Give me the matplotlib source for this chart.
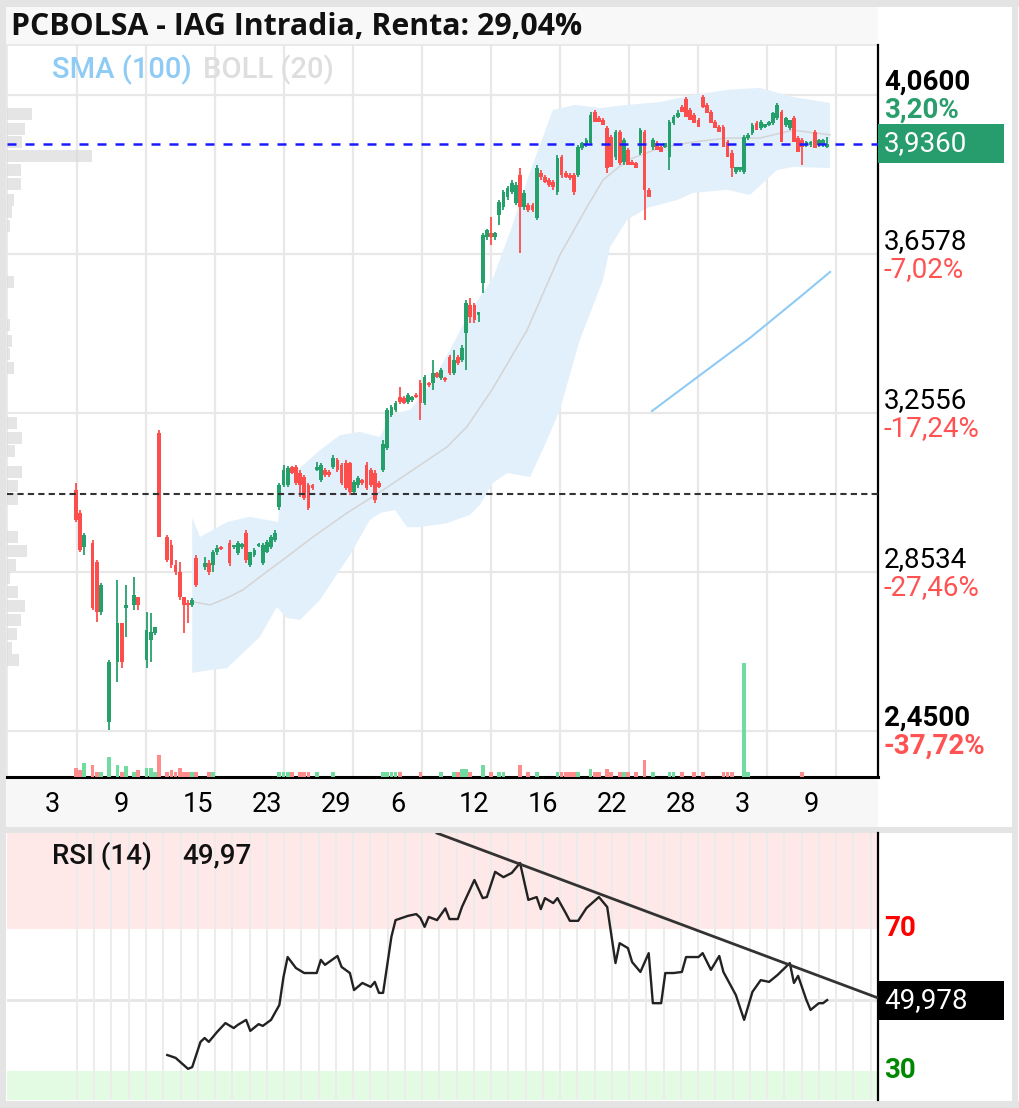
import numpy as np
import matplotlib
matplotlib.use("Agg")
import matplotlib.pyplot as plt
import matplotlib.transforms as mtrans
from matplotlib.patches import Rectangle

plt.rcParams['font.family'] = ['Roboto', 'DejaVu Sans']

nan = float('nan')

# ---------------- DATA ----------------
# OHLC per time slot (nan = slot without trades)
open_ = [
 3.060, 3.002, 2.916, nan, 2.926, 2.878, 2.751, nan, 2.473, nan,
 2.625, 2.723, 2.761, nan, 2.769, 2.789, nan, 2.630, 2.680, 2.698,
 3.204, nan, 2.941, 2.921, 2.870, 2.852, 2.789, 2.774, 2.769, 2.888,
 nan, 2.865, 2.875, 2.870, 2.903, 2.916, nan, 2.926,
 2.916, 2.901, 2.916, 2.951, 2.870, 2.895, 2.918, 2.875, 2.903, 2.916,
 2.933, 3.017, 3.073, 3.073, 3.118, 3.118, 3.103, 3.093, 3.073, 3.073,
 3.111, 3.085, 3.111, 3.106, 3.118, 3.136, 3.123, 3.128, 3.128, 3.055,
 3.073, 3.085, 3.123, 3.111, 3.103, 3.078, 3.111, 3.166, 3.250, 3.263,
 3.295, 3.293, 3.283, 3.288, 3.301, 3.331, 3.280, 3.331, 3.331, 3.356,
 3.344, 3.344, 3.397, 3.356, 3.397, 3.389, 3.457, 3.528, 3.528, 3.503,
 3.584, 3.701, 3.711, 3.701, 3.756, 3.776, 3.802, 3.814, 3.787, 3.857,
 3.776, 3.782, 3.782, 3.749, 3.863, 3.852, 3.845, 3.840, 3.814, 3.903,
 3.863, 3.857, 3.857, 3.857, 3.926, 3.933, 3.938, 4.017, 4.002, 3.997,
 3.976, 3.954, 3.903, 3.966, 3.890, 3.921, 3.890, 3.888, 3.913, 3.966,
 3.820, 3.928, 3.938, 3.928, 3.928, 3.903, 3.989, 4.004, 4.030, 4.050,
 4.022, 4.009, 3.997, 4.055, 4.035, 4.017, 3.992, 3.979, 3.979, 3.941,
 3.913, 3.865, 3.870, 3.865, 3.951, 3.964, 3.989, 3.976, 3.979, 3.984,
 3.989, 4.002, 4.017, 3.984, 3.976, 4.002, 3.951, 3.946, 3.933, 3.933,
 3.966, 3.933, 3.933, 3.928]
high = [
 3.078, 3.009, 2.951, nan, 2.933, 2.883, 2.825, nan, 2.630, nan,
 2.832, 2.723, 2.820, nan, 2.840, 2.789, nan, 2.751, 2.749, 2.713,
 3.212, nan, 2.946, 2.933, 2.883, 2.878, 2.789, 2.782, 2.787, 2.895,
 nan, 2.890, 2.883, 2.908, 2.921, 2.918, nan, 2.933,
 2.921, 2.931, 2.926, 2.959, 2.903, 2.913, 2.926, 2.926, 2.933, 2.946,
 2.959, 3.078, 3.123, 3.121, 3.121, 3.123, 3.111, 3.098, 3.078, 3.075,
 3.131, 3.128, 3.116, 3.111, 3.149, 3.141, 3.128, 3.136, 3.131, 3.085,
 3.095, 3.088, 3.131, 3.116, 3.111, 3.083, 3.187, 3.268, 3.275, 3.285,
 3.321, 3.298, 3.306, 3.298, 3.306, 3.338, 3.351, 3.333, 3.389, 3.359,
 3.369, 3.346, 3.402, 3.414, 3.402, 3.427, 3.541, 3.546, 3.533, 3.511,
 3.711, 3.721, 3.751, 3.713, 3.794, 3.820, 3.830, 3.845, 3.840, 3.875,
 3.820, 3.787, 3.787, 3.883, 3.870, 3.857, 3.850, 3.845, 3.908, 3.908,
 3.868, 3.863, 3.863, 3.933, 3.941, 3.951, 4.017, 4.022, 4.007, 4.002,
 3.982, 3.959, 3.971, 3.971, 3.951, 3.926, 3.895, 3.890, 3.976, 3.971,
 3.825, 3.951, 3.944, 3.933, 3.938, 3.997, 4.009, 4.022, 4.035, 4.055,
 4.027, 4.014, 4.002, 4.060, 4.040, 4.022, 3.997, 3.984, 3.984, 3.946,
 3.921, 3.870, 3.878, 3.959, 3.964, 3.989, 3.994, 3.997, 3.987, 3.994,
 4.017, 4.040, 4.022, 4.004, 3.997, 4.007, 3.956, 3.951, 3.944, 3.944,
 3.971, 3.949, 3.949, 3.954]
low = [
 2.979, 2.903, 2.895, nan, 2.756, 2.726, 2.744, nan, 2.452, nan,
 2.574, 2.609, 2.688, nan, 2.756, 2.756, nan, 2.609, 2.625, 2.693,
 2.941, nan, 2.878, 2.863, 2.845, 2.782, 2.698, 2.723, 2.764, 2.815,
 nan, 2.858, 2.845, 2.852, 2.895, 2.908, nan, 2.868,
 2.911, 2.895, 2.911, 2.875, 2.865, 2.890, 2.916, 2.870, 2.901, 2.911,
 2.928, 3.009, 3.068, 3.068, 3.101, 3.073, 3.042, 3.035, 3.009, 3.060,
 3.108, 3.080, 3.093, 3.093, 3.113, 3.106, 3.073, 3.060, 3.047, 3.050,
 3.065, 3.073, 3.060, 3.068, 3.027, 3.065, 3.106, 3.161, 3.245, 3.257,
 3.278, 3.278, 3.278, 3.283, 3.293, 3.237, 3.275, 3.321, 3.313, 3.344,
 3.338, 3.333, 3.351, 3.351, 3.376, 3.384, 3.364, 3.483, 3.483, 3.485,
 3.559, 3.693, 3.680, 3.693, 3.731, 3.769, 3.794, 3.809, 3.782, 3.660,
 3.769, 3.764, 3.764, 3.744, 3.845, 3.837, 3.827, 3.820, 3.807, 3.850,
 3.850, 3.845, 3.807, 3.852, 3.921, 3.928, 3.933, 3.992, 3.992, 3.984,
 3.863, 3.878, 3.895, 3.883, 3.883, 3.883, 3.883, 3.875, 3.908, 3.744,
 3.802, 3.921, 3.921, 3.916, 3.926, 3.870, 3.984, 4.002, 4.017, 4.004,
 3.997, 3.989, 3.979, 4.027, 4.014, 3.989, 3.976, 3.966, 3.928, 3.903,
 3.852, 3.860, 3.865, 3.860, 3.946, 3.959, 3.971, 3.971, 3.976, 3.982,
 3.984, 3.997, 3.941, 3.979, 3.971, 3.941, 3.916, 3.883, 3.928, 3.928,
 3.926, 3.928, 3.928, 3.926]
close = [
 2.984, 2.908, 2.946, nan, 2.761, 2.751, 2.820, nan, 2.625, nan,
 2.723, 2.625, 2.769, nan, 2.794, 2.769, nan, 2.706, 2.701, 2.713,
 2.941, nan, 2.883, 2.870, 2.852, 2.789, 2.769, 2.769, 2.782, 2.820,
 nan, 2.875, 2.852, 2.903, 2.913, 2.911, nan, 2.875,
 2.921, 2.926, 2.923, 2.883, 2.903, 2.908, 2.923, 2.921, 2.928, 2.941,
 2.951, 3.073, 3.111, 3.116, 3.103, 3.078, 3.073, 3.040, 3.015, 3.065,
 3.118, 3.123, 3.098, 3.098, 3.141, 3.111, 3.078, 3.065, 3.055, 3.080,
 3.090, 3.078, 3.065, 3.073, 3.035, 3.068, 3.176, 3.263, 3.270, 3.280,
 3.283, 3.280, 3.301, 3.295, 3.295, 3.280, 3.346, 3.326, 3.356, 3.346,
 3.364, 3.338, 3.356, 3.389, 3.382, 3.419, 3.533, 3.498, 3.490, 3.511,
 3.706, 3.718, 3.701, 3.711, 3.789, 3.814, 3.825, 3.837, 3.832, 3.776,
 3.812, 3.769, 3.769, 3.875, 3.852, 3.840, 3.832, 3.827, 3.901, 3.857,
 3.852, 3.850, 3.814, 3.928, 3.938, 3.946, 4.009, 3.992, 3.992, 3.984,
 3.875, 3.878, 3.966, 3.888, 3.946, 3.883, 3.883, 3.875, 3.971, 3.820,
 3.802, 3.946, 3.921, 3.916, 3.938, 3.992, 4.004, 4.014, 4.017, 4.004,
 3.997, 3.989, 3.979, 4.030, 4.014, 3.989, 3.976, 3.966, 3.928, 3.903,
 3.875, 3.878, 3.878, 3.954, 3.959, 3.984, 3.971, 3.992, 3.987, 3.992,
 4.014, 4.035, 3.941, 4.002, 3.997, 3.941, 3.916, 3.928, 3.941, 3.941,
 3.926, 3.946, 3.946, 3.936]
volume = [
 180, 140, 280, nan, 240, 100, 100, nan, 400, nan,
 240, 100, 220, nan, 100, 140, nan, 180, 180, 100,
 440, nan, 100, 140, 100, 180, 100, 100, 100, 100,
 nan, 0, 100, 100, 0, 0, nan, 0,
 0, 0, 0, 0, 0, 0, 0, 0, 0, 0,
 0, 100, 100, 100, 100, 0, 100, 100, 100, 0,
 100, 0, 0, 0, 100, 0, 0, 0, 0, 0,
 0, 0, 0, 0, 0, 0, 100, 100, 100, 100,
 100, 0, 0, 0, 0, 100, 0, 0, 0, 0,
 100, 0, 0, 100, 100, 160, 160, 100, 0, 0,
 240, 0, 100, 0, 100, 100, 0, 0, 0, 240,
 0, 100, 0, 100, 0, 0, 0, 0, 100, 100,
 100, 100, 100, 100, 0, 0, 160, 100, 100, 0,
 160, 100, 0, 100, 100, 100, 0, 100, 0, 340,
 0, 100, 0, 0, 0, 100, 100, 0, 100, 0,
 0, 100, 0, 100, 0, 0, 0, 0, 100, 100,
 100, 0, 0, 2280, 100, 0, 0, 0, 0, 0,
 0, 0, 0, 0, 0, 0, 0, 100, 0, 0,
 0, 0, 0, 0]

# Bollinger (20) bands, mid line and SMA(100), read at time slots
boll_up_t = [28.0, 29.9, 36.4, 41.9, 48.7, 49.6, 54.0, 58.8, 63.6, 68.4, 73.3, 75.7, 80.5, 85.3, 90.1,
             94.9, 100.5, 104.6, 109.4, 114.9, 120.2, 126.3, 132.8, 140.7, 148.7, 156.9, 164.8, 172.8, 181.7]
boll_up = [2.989, 2.941, 2.979, 2.992, 2.979, 3.090, 3.116, 3.161, 3.199, 3.207, 3.194, 3.250, 3.263, 3.326, 3.414,
           3.511, 3.597, 3.713, 3.865, 4.022, 4.035, 4.027, 4.035, 4.042, 4.060, 4.073, 4.078, 4.055, 4.040]
boll_lo_t = [28.0, 32.3, 36.4, 40.2, 44.3, 48.4, 50.8, 54.0, 58.8, 63.6, 66.0, 70.8, 73.3, 76.9, 79.8, 82.9,
             89.4, 94.9, 97.3, 100.5, 103.9, 109.4, 113.0, 116.6, 121.4, 127.0, 128.7, 132.8, 137.6, 144.8,
             148.7, 156.9, 162.4, 168.9, 172.8, 181.7]
boll_lo = [2.597, 2.604, 2.609, 2.647, 2.688, 2.764, 2.736, 2.731, 2.782, 2.858, 2.895, 2.984, 3.002, 3.009, 2.966, 2.966,
           2.976, 2.997, 3.022, 3.078, 3.103, 3.093, 3.174, 3.263, 3.440, 3.592, 3.675, 3.744, 3.774, 3.794,
           3.812, 3.820, 3.807, 3.870, 3.878, 3.875]
boll_mid_t = [28.2, 32.3, 36.4, 40.2, 44.3, 49.2, 57.1, 65.3, 73.3, 81.2, 89.4, 94.2, 100.5, 108.7, 116.6,
              123.1, 127.0, 132.8, 140.7, 148.7, 156.9, 164.8, 172.8, 181.7]
boll_mid = [2.777, 2.769, 2.787, 2.807, 2.840, 2.878, 2.941, 3.002, 3.055, 3.111, 3.169, 3.220, 3.318, 3.465, 3.655,
            3.776, 3.845, 3.895, 3.926, 3.941, 3.951, 3.951, 3.971, 3.959]
sma_t = [138.8, 150.4, 162.4, 174.5, 181.7]
sma100 = [3.260, 3.351, 3.445, 3.549, 3.612]

# Volume profile (price level, relative volume)
prof_price = [4.012, 3.974, 3.941, 3.905, 3.870, 3.835, 3.794, 3.764, 3.728, 3.587, 3.478, 3.437, 3.404, 3.369,
              3.230, 3.192, 3.159, 3.106, 3.070, 3.037, 2.941, 2.906, 2.870, 2.837, 2.802, 2.766, 2.731, 2.695,
              2.660, 2.630]
prof_vol = [25, 18, 15, 84, 14, 14, 7, 5, 3, 7, 3, 5, 3, 7, 10, 15, 8, 15, 11, 11, 11, 20, 9, 3, 11, 18, 14, 10, 5, 12]

# RSI(14)
rsi_t = [22, 24, 27, 28, 30, 31, 32, 34, 36, 38, 39, 41, 42, 44, 45, 47, 49, 50, 51, 53, 55, 58, 59, 60, 63, 64,
         66, 67, 69, 71, 72, 73, 74, 76, 77, 80, 82, 83, 84, 85, 87, 89, 90, 92, 93, 96, 98, 99, 101, 103, 105,
         107, 109, 111, 112, 113, 115, 116, 118, 119, 121, 123, 126, 128, 130, 131, 133, 134, 136, 138, 139, 141,
         142, 144, 146, 147, 150, 151, 153, 155, 156, 159, 161, 163, 165, 167, 169, 172, 173, 174, 176, 177, 179,
         180, 181]
rsi_v = [34.5, 33.7, 30.6, 31.1, 38.2, 39.3, 38.2, 41.0, 43.5, 42.1, 43.0, 44.4, 41.3, 43.2, 42.7, 44.4, 48.6,
         56.5, 62.1, 59.0, 57.6, 57.6, 61.3, 59.9, 62.4, 59.3, 57.6, 52.8, 54.8, 53.7, 55.1, 52.0, 52.0, 67.8,
         72.5, 73.7, 74.2, 73.1, 70.6, 73.4, 72.5, 75.8, 72.8, 72.8, 76.2, 83.8, 78.7, 79.0, 86.1, 84.6, 85.8,
         88.6, 78.2, 79.0, 75.6, 78.7, 77.3, 78.7, 74.5, 72.3, 72.3, 75.9, 79.0, 76.2, 60.4, 66.0, 64.6, 60.7,
         57.9, 63.2, 49.1, 49.1, 57.6, 57.6, 57.9, 62.1, 62.1, 63.2, 58.5, 62.4, 57.9, 51.4, 44.4, 52.3, 55.6,
         55.1, 57.0, 60.4, 54.8, 56.8, 50.0, 47.2, 49.1, 49.1, 49.98]
trend_t = [87.0, 193.2]
trend_v = [97.0, 50.6]

x_labels = ['3', '9', '15', '23', '29', '6', '12', '16', '22', '28', '3', '9']
price_ticks = [4.0600, 3.6578, 3.2556, 2.8534, 2.4500]
price_lbl = ['4,0600', '3,6578', '3,2556', '2,8534', '2,4500']
pct_lbl = ['3,20%', '-7,02%', '-17,24%', '-27,46%', '-37,72%']
last_price = 3.936
ref_price = 3.05
rsi_last = 49.978
title = 'PCBOLSA - IAG Intradia, Renta: 29,04%'

assert len(open_) == len(high) == len(low) == len(close) == len(volume)
assert len(rsi_t) == len(rsi_v)

# ---------------- LAYOUT ----------------
W, H = 1020, 1108
fig = plt.figure(figsize=(W / 100, H / 100), dpi=100)
fig.patch.set_facecolor('white')

def fx(px): return px / W
def fy(py): return 1 - py / H
def box(x0, y0, x1, y1): return [fx(x0), fy(y1), (x1 - x0) / W, (y1 - y0) / H]

def frect(x0, y0, x1, y1, color):
    fig.patches.append(Rectangle((fx(x0), fy(y1)), (x1 - x0) / W, (y1 - y0) / H,
                                 transform=fig.transFigure, facecolor=color,
                                 edgecolor='none', zorder=-5))

GREY = '#e4e4e4'
frect(0, 0, W, 7, GREY)
frect(0, 0, 6, H, GREY)
frect(1012, 0, 1018, H, GREY)
frect(0, 1101, W, H, GREY)
frect(6, 7, 878, 45, '#f8f8f8')
frect(6, 779, 878, 827, '#f7f7f7')
frect(0, 827, 1018, 833, GREY)

fig.text(fx(11), fy(27), title, fontsize=21.8, fontweight='bold',
         family=['Open Sans', 'DejaVu Sans'], va='center', ha='left', color='#111111')
fig.text(fx(52), fy(70), 'SMA (100)', fontsize=21, fontweight='medium', color='#8ecbf5', va='center')
fig.text(fx(203), fy(70), 'BOLL (20)', fontsize=21, fontweight='medium', color='#dedede', va='center')

SLOT = 4.15  # px per time slot
X0 = 76      # px of slot 0
AX_L, AX_R = 7, 878
xlim = (-(X0 - AX_L) / SLOT, (AX_R - X0) / SLOT)

ax = fig.add_axes(box(AX_L, 45, AX_R, 777))
ylim = (4.06 - 682 / 395, 4.06 + 50 / 395)
ax.set_xlim(*xlim)
ax.set_ylim(*ylim)
ax.set_xticks([])
ax.set_yticks([])
for s in ['top', 'left']:
    ax.spines[s].set_color('#e6e6e6')
    ax.spines[s].set_linewidth(1.2)
ax.spines['right'].set_color('black')
ax.spines['right'].set_linewidth(1.6)
ax.spines['bottom'].set_color('black')
ax.spines['bottom'].set_linewidth(2.2)
ax.spines['right'].set_zorder(10)
ax.spines['bottom'].set_zorder(10)

GRID = '#e8e8e8'
grid_slots = [(77 - X0 + 69 * k) / SLOT for k in range(12)]
for g in grid_slots:
    ax.axvline(g, color=GRID, lw=1.6, zorder=0)
for p in price_ticks:
    ax.axhline(p, color=GRID, lw=1.6, zorder=0)

# Bollinger band
poly_x = list(boll_up_t) + list(boll_lo_t[::-1])
poly_y = list(boll_up) + list(boll_lo[::-1])
ax.fill(poly_x, poly_y, color='#e2f0fc', lw=0, zorder=1)
ax.plot(boll_mid_t, boll_mid, color='#d4d4d4', lw=1.1, zorder=2)
ax.plot(sma_t, sma100, color='#8ecbf5', lw=1.5, zorder=2)

# Candles
o = np.array(open_); h = np.array(high); l = np.array(low); c = np.array(close)
v = np.array(volume, dtype=float)
xs = np.arange(len(c))
ok = ~np.isnan(c)
up = ok & (c >= o)
dn = ok & (c < o)
GREEN, RED = '#26a06b', '#fd4e4e'
for m, col in [(up, GREEN), (dn, RED)]:
    ax.vlines(xs[m], l[m], h[m], color=col, lw=1.3, zorder=3)
    ax.bar(xs[m], np.maximum(np.abs(c[m] - o[m]), 0.004), bottom=np.minimum(o[m], c[m]),
           width=0.9, color=col, lw=0, zorder=4)

# Volume (twin axis)
ax_v = ax.twinx()
ax_v.set_ylim(0, np.nanmax(v) * 732 / 114)
ax_v.set_yticks([])
for s in ax_v.spines.values():
    s.set_visible(False)
ax_v.bar(xs[up], v[up], width=0.9, color='#72dca0', lw=0)
ax_v.bar(xs[dn], v[dn], width=0.9, color='#ff8c8c', lw=0)

# Volume profile + reference lines
ax_p = ax.twiny()
ax_p.set_xlim(0, max(prof_vol) * 871 / 85)
ax_p.set_xticks([])
for s in ax_p.spines.values():
    s.set_visible(False)
ax_p.barh(prof_price, prof_vol, height=0.029, color='#d8d8d8', alpha=0.65, lw=0)
ax_p.axhline(ref_price, color='#333333', lw=1.5, ls=(0, (3, 2)))
ax_p.axhline(last_price, color='#1a1aff', lw=1.8, ls=(0, (3.6, 3.6)))

# x labels
tb = mtrans.blended_transform_factory(ax.transData, ax.transAxes)
for k, lab in enumerate(x_labels):
    sx = (45 + 69 * k - X0) / SLOT
    ax.text(sx, -28 / 732, lab, transform=tb, ha='left', va='center', fontsize=19.5, color='black')

# right price labels
PGREEN = '#2a9d6c'
PRED = '#ff5252'
for i, (p, pl, cl) in enumerate(zip(price_ticks, price_lbl, pct_lbl)):
    bold = i in (0, len(price_ticks) - 1)
    wt = 'bold' if bold else 'normal'
    pc = PGREEN if i == 0 else PRED
    ax.annotate(pl, xy=(1, p), xycoords=('axes fraction', 'data'), xytext=(6, 5),
                textcoords='offset pixels', ha='left', va='baseline', fontsize=20, fontweight=wt,
                color='black', annotation_clip=False)
    ax.annotate(cl, xy=(1, p), xycoords=('axes fraction', 'data'), xytext=(6, -23),
                textcoords='offset pixels', ha='left', va='baseline', fontsize=20, fontweight=wt,
                color=pc, annotation_clip=False)

ppx = (ylim[1] - ylim[0]) / 732  # price per px
bt = mtrans.blended_transform_factory(ax.transAxes, ax.transData)
ax.add_patch(Rectangle((1.0, last_price - 19.5 * ppx), 126 / 871, 39 * ppx, transform=bt,
                       facecolor='#279d6d', edgecolor='none', clip_on=False, zorder=20))
ax.annotate('3,9360', xy=(1, last_price), xycoords=('axes fraction', 'data'), xytext=(6, 0),
            textcoords='offset pixels', ha='left', va='center', fontsize=20, color='white',
            annotation_clip=False, zorder=21)

# ---------------- RSI ----------------
ax_r = fig.add_axes(box(AX_L, 833, AX_R, 1100))
rlim = (30 - 29 / 3.55, 70 + 96 / 3.55)
ax_r.set_xlim(*xlim)
ax_r.set_ylim(*rlim)
ax_r.set_xticks([])
ax_r.set_yticks([])
for s in ['top', 'left', 'bottom']:
    ax_r.spines[s].set_visible(False)
ax_r.spines['right'].set_color('black')
ax_r.spines['right'].set_linewidth(1.6)
ax_r.axhspan(70, rlim[1], color='#ffe8e8', lw=0, zorder=0)
ax_r.axhspan(rlim[0], 30, color='#e3fae3', lw=0, zorder=0)
ax_r.axhline(50, color='#e6e6e6', lw=2, zorder=1)
for k in range(47):
    ax_r.axvline((77 - X0 + 17.25 * k) / SLOT, color='#ececec', lw=1.4, zorder=1)
ax_r.plot(rsi_t, rsi_v, color='#222222', lw=1.7, zorder=3)
ax_r.plot(trend_t, trend_v, color='#333333', lw=2.0, zorder=3)

ax_r.annotate('70', xy=(1, 70), xycoords=('axes fraction', 'data'), xytext=(6, 0),
              textcoords='offset pixels', ha='left', va='center', fontsize=20, fontweight='bold',
              color='#ff0000', annotation_clip=False)
ax_r.annotate('30', xy=(1, 30), xycoords=('axes fraction', 'data'), xytext=(6, 0),
              textcoords='offset pixels', ha='left', va='center', fontsize=20, fontweight='bold',
              color='#008800', annotation_clip=False)
rpx = (rlim[1] - rlim[0]) / 267
btr = mtrans.blended_transform_factory(ax_r.transAxes, ax_r.transData)
ax_r.add_patch(Rectangle((1.0, 49.86 - 19.5 * rpx), 126 / 871, 39 * rpx, transform=btr,
                         facecolor='black', edgecolor='none', clip_on=False, zorder=20))
ax_r.annotate('49,978', xy=(1, 49.86), xycoords=('axes fraction', 'data'), xytext=(6, 0),
              textcoords='offset pixels', ha='left', va='center', fontsize=20, color='white',
              annotation_clip=False, zorder=21)
fig.text(fx(52), fy(856), 'RSI (14)', fontsize=20, fontweight='medium', color='#111111', va='center')
fig.text(fx(182), fy(856), '49,97', fontsize=20, fontweight='medium', color='#111111', va='center')

fig.savefig('out.png', dpi=100, facecolor='white')
